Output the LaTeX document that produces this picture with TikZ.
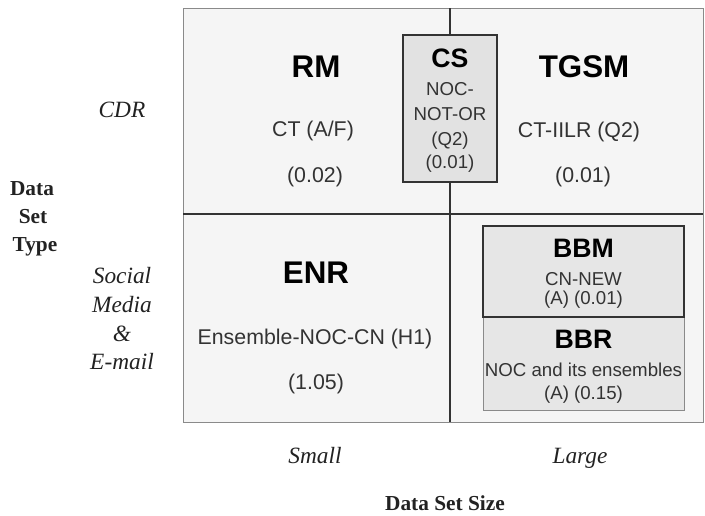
\documentclass[tikz,border=0pt]{standalone}
\usepackage{fontspec}
\setmainfont{Liberation Serif}
\newfontfamily\arialf{Liberation Sans}
\definecolor{quadfill}{HTML}{F5F5F5}
\definecolor{quadline}{HTML}{8A8A8A}
\definecolor{darkline}{HTML}{333333}
\definecolor{csfill}{HTML}{E2E2E2}
\definecolor{bbfill}{HTML}{E6E6E6}
\definecolor{subtext}{HTML}{333333}
\definecolor{serifcol}{HTML}{222222}
\begin{document}
\begin{tikzpicture}[x=0.75pt,y=-0.75pt,
  quad/.style={fill=quadfill,draw=quadline,line width=0.75pt},
  cross/.style={draw=darkline,line width=0.9pt},
  bigtitle/.style={anchor=base,inner sep=0pt,font=\arialf\bfseries\fontsize{23.5}{28}\selectfont,text=black},
  midtitle/.style={anchor=base,inner sep=0pt,font=\arialf\bfseries\fontsize{20}{24}\selectfont,text=black},
  regtext/.style={anchor=base,inner sep=0pt,font=\arialf\fontsize{16}{19}\selectfont,text=subtext},
  smalltext/.style={anchor=base,inner sep=0pt,font=\arialf\fontsize{14}{17}\selectfont,text=subtext},
  axislab/.style={anchor=base,inner sep=0pt,font=\itshape\fontsize{17.5}{21}\selectfont,text=serifcol},
  axistitle/.style={anchor=base,inner sep=0pt,font=\bfseries\fontsize{16}{19}\selectfont,text=serifcol}]
\useasboundingbox (0,0) rectangle (705,515);

% quadrants
\draw[quad] (183,8) rectangle (450,214);
\draw[quad] (450,8) rectangle (703,214);
\draw[quad] (183,214) rectangle (450,422);
\draw[quad] (450,214) rectangle (703,422);
\coordinate (vt) at (450,8);
\coordinate (vb) at (450,422);
\coordinate (hl) at (183,214);
\coordinate (hr) at (703,214);
\draw[cross] (vt) -- (vb);
\draw[cross] (hl) -- (hr);

% CS box
\draw[fill=csfill,draw=darkline,line width=0.9pt] (403,35) rectangle (497,182);
% BBM / BBR boxes
\draw[fill=bbfill,draw=quadline,line width=0.75pt] (483,317) rectangle (684,410);
\draw[fill=bbfill,draw=darkline,line width=0.9pt] (483,226) rectangle (684,317);

% RM
\node[bigtitle] (rm) at (316,77) {RM};
\node[regtext] (rmct) at (313,136) {CT (A/F)};
\node[regtext] (rmv) at (315,182) {(0.02)};
% TGSM
\node[bigtitle] (tgsm) at (584,77) {TGSM};
\node[regtext] (tgct) at (579,137) {CT-IILR (Q2)};
\node[regtext] (tgv) at (583,182) {(0.01)};
% CS
\node[midtitle] (cs) at (450,67) {CS};
\node[smalltext] (cs1) at (450,95) {NOC-};
\node[smalltext] (cs2) at (450,120) {NOT-OR};
\node[smalltext] (cs3) at (450,145) {(Q2)};
\node[smalltext] (cs4) at (450,168) {(0.01)};
% ENR
\node[bigtitle] (enr) at (316,283) {ENR};
\node[regtext] (enrct) at (315,344) {Ensemble-NOC-CN (H1)};
\node[regtext] (enrv) at (316,389) {(1.05)};
% BBM
\node[midtitle] (bbm) at (583.5,257) {BBM};
\node[smalltext] (bbm1) at (583.5,285) {CN-NEW};
\node[smalltext] (bbm2) at (583.5,304) {(A) (0.01)};
% BBR
\node[midtitle] (bbr) at (583.5,348) {BBR};
\node[smalltext] (bbr1) at (583.5,376) {NOC and its ensembles};
\node[smalltext] (bbr2) at (583.5,399) {(A) (0.15)};

% left axis
\node[axislab] (cdr) at (122,117) {CDR};
\node[axislab] (sm1) at (122,283) {Social};
\node[axislab] (sm2) at (122,312) {Media};
\node[axislab] (sm3) at (122,341) {\&};
\node[axislab] (sm4) at (122,369) {E-mail};
\node[axistitle] (dt1) at (32,195) {Data};
\node[axistitle] (dt2) at (33,223) {Set};
\node[axistitle] (dt3) at (35,251) {Type};

% bottom axis
\node[axislab] (small) at (315,463) {Small};
\node[axislab] (large) at (580,463) {Large};
\node[axistitle] (dss) at (445,510) {Data Set Size};
\end{tikzpicture}
\end{document}
